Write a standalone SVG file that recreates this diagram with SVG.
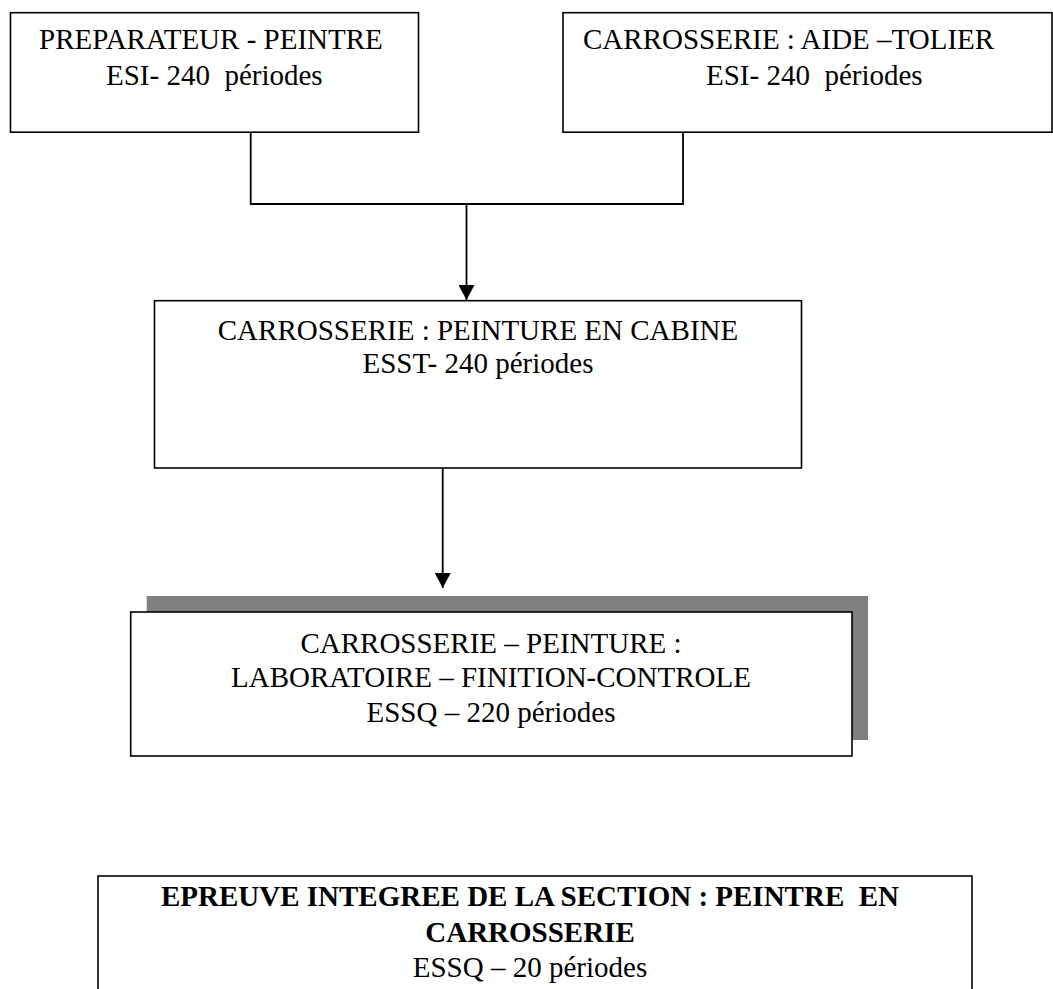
<svg xmlns="http://www.w3.org/2000/svg" width="1053" height="989" viewBox="0 0 1053 989">
<style>
.box{fill:#fff;stroke:#000;stroke-width:1.6}
.t{font-family:"Liberation Serif","Times New Roman",serif;font-size:29px;fill:#000}
.b{font-weight:bold}
.c{text-anchor:middle}
.line{fill:none;stroke:#000;stroke-width:1.8}
</style>
<defs>
<marker id="ah" markerUnits="userSpaceOnUse" markerWidth="16" markerHeight="16" refX="15" refY="8" orient="auto">
<path d="M0,0 L15,8 L0,16 Z" fill="#000"/>
</marker>
</defs>
<rect width="1053" height="989" fill="#fff"/>
<g id="connectors">
<polyline class="line" points="250.7,132 250.7,204 683,204 683,132"/>
<line class="line" x1="466.5" y1="204" x2="466.5" y2="300" marker-end="url(#ah)"/>
<line class="line" x1="442.7" y1="468" x2="442.7" y2="588" marker-end="url(#ah)"/>
</g>
<g id="n1">
<rect class="box" x="10.5" y="12.7" width="408" height="119.5"/>
<text class="t" x="39" y="49">PREPARATEUR - PEINTRE</text>
<text class="t" x="106" y="85" xml:space="preserve">ESI- 240  périodes</text>
</g>
<g id="n2">
<rect class="box" x="563" y="12.7" width="489" height="119.5"/>
<text class="t" x="583" y="49">CARROSSERIE : AIDE –TOLIER</text>
<text class="t" x="706" y="85" xml:space="preserve">ESI- 240  périodes</text>
</g>
<g id="n3">
<rect class="box" x="154.5" y="300.7" width="647" height="167.3"/>
<text class="t c" x="478" y="340">CARROSSERIE : PEINTURE EN CABINE</text>
<text class="t c" x="478" y="373">ESST- 240 périodes</text>
</g>
<g id="n4">
<rect x="146.7" y="596" width="721.3" height="144" fill="#808080"/>
<rect class="box" x="130.7" y="612" width="721.3" height="144"/>
<text class="t c" x="491" y="652.7">CARROSSERIE – PEINTURE :</text>
<text class="t c" x="491" y="687">LABORATOIRE – FINITION-CONTROLE</text>
<text class="t c" x="491" y="721.7">ESSQ – 220 périodes</text>
</g>
<g id="n5">
<rect class="box" x="98" y="876" width="874" height="130"/>
<text class="t b c" x="530" y="906" xml:space="preserve">EPREUVE INTEGREE DE LA SECTION : PEINTRE  EN</text>
<text class="t b c" x="530" y="942">CARROSSERIE</text>
<text class="t c" x="530" y="977">ESSQ – 20 périodes</text>
</g>
</svg>
